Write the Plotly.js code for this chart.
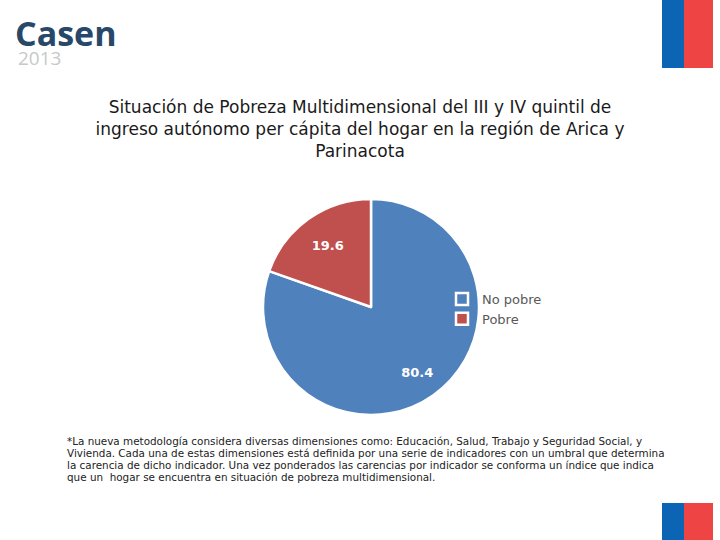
<!DOCTYPE html>
<html>
<head>
<meta charset="utf-8">
<script src="https://cdn.plot.ly/plotly-3.0.1.min.js"></script>
<style>html,body{margin:0;padding:0;background:#fff}#chart{width:720px;height:540px}</style>
</head>
<body>
<div id="chart"></div>
<script>
const categories = ["No pobre", "Pobre"];
const values = [80.4, 19.6];
const colors = ["#4f81bd", "#c0504d"];
const titleLines = [
  "Situación de Pobreza Multidimensional del III y IV quintil de",
  "ingreso autónomo per cápita del hogar en la región de Arica y",
  "Parinacota"
];
const noteLines = [
  "*La nueva metodología considera diversas dimensiones como: Educación, Salud, Trabajo y Seguridad Social, y",
  "Vivienda. Cada una de estas dimensiones está definida por una serie de indicadores con un umbral que determina",
  "la carencia de dicho indicador. Una vez ponderados las carencias por indicador se conforma un índice que indica",
  "que un  hogar se encuentra en situación de pobreza multidimensional."
];

const cx = 371, cy = 307, R = 108;
function dom(r) {
  return {x: [(cx - r) / 720, (cx + r) / 720], y: [1 - (cy + r) / 540, 1 - (cy - r) / 540]};
}
const labelFont = {family: "DejaVu Sans", size: 13, color: "#ffffff", weight: "bold"};

const mainPie = {
  type: "pie",
  labels: categories,
  values: values,
  sort: false,
  direction: "clockwise",
  rotation: 0,
  marker: {colors: colors, line: {color: "#ffffff", width: 2.5}},
  textinfo: "none",
  hoverinfo: "label+value",
  domain: dom(R)
};

// transparent overlays, only used to place each slice's label like the reference
// (own label keys so they do not share legend/colour entries with the main pie)
function labelPie(templates, r, key) {
  return {
    type: "pie",
    labels: categories.map(function (c) { return c + key; }),
    values: values,
    sort: false,
    direction: "clockwise",
    rotation: 0,
    marker: {colors: ["rgba(0,0,0,0)", "rgba(0,0,0,0)"], line: {width: 0}},
    texttemplate: templates,
    textposition: "inside",
    insidetextorientation: "horizontal",
    textfont: labelFont,
    hoverinfo: "skip",
    showlegend: false,
    domain: dom(r)
  };
}

const annotations = [
  {text: "<b>Casen</b>", xref: "paper", yref: "paper", x: 13/720, y: 1 - 8/540, xanchor: "left", yanchor: "top", showarrow: false,
   font: {family: "Open Sans", size: 34, color: "#274868"}},
  {text: "2013", xref: "paper", yref: "paper", x: 16/720, y: 1 - 43/540, xanchor: "left", yanchor: "top", showarrow: false,
   font: {family: "Open Sans", size: 19, color: "#c8c8c8"}}
];
noteLines.forEach(function (line, i) {
  annotations.push({text: line, xref: "paper", yref: "paper", x: 65/720, y: 1 - (441 + 12 * i)/540,
    xanchor: "left", yanchor: "middle", align: "left", showarrow: false,
    font: {family: "DejaVu Sans", size: 10.4, color: "#222222"}});
});

const layout = {
  width: 720, height: 540,
  margin: {l: 0, r: 0, t: 0, b: 0},
  paper_bgcolor: "#ffffff",
  showlegend: true,
  legend: {
    x: 442/720, y: 1 - 284/540, xanchor: "left", yanchor: "top",
    bgcolor: "rgba(0,0,0,0)",
    font: {family: "DejaVu Sans", size: 13, color: "#595959"}
  },
  title: {
    text: titleLines.join("<br>"),
    x: 0.5, xanchor: "center", y: 1 - 113/540, yanchor: "top",
    font: {family: "DejaVu Sans", size: 17, color: "#1a1a1a"}
  },
  shapes: [
    {type: "rect", xref: "paper", yref: "paper", x0: 662/720, x1: 684/720, y0: 1 - 68/540, y1: 1, fillcolor: "#0b64b4", line: {width: 0}},
    {type: "rect", xref: "paper", yref: "paper", x0: 684/720, x1: 713/720, y0: 1 - 68/540, y1: 1, fillcolor: "#ef4444", line: {width: 0}},
    {type: "rect", xref: "paper", yref: "paper", x0: 662/720, x1: 684/720, y0: 0, y1: 37/540, fillcolor: "#0b64b4", line: {width: 0}},
    {type: "rect", xref: "paper", yref: "paper", x0: 684/720, x1: 713/720, y0: 0, y1: 37/540, fillcolor: "#ef4444", line: {width: 0}}
  ],
  annotations: annotations
};

Plotly.newPlot("chart", [mainPie, labelPie(["%{value:.1f}", ""], 160, " "), labelPie(["", "%{value:.1f}"], 118, "  ")], layout,
  {displayModeBar: false, staticPlot: true});
</script>
</body>
</html>
